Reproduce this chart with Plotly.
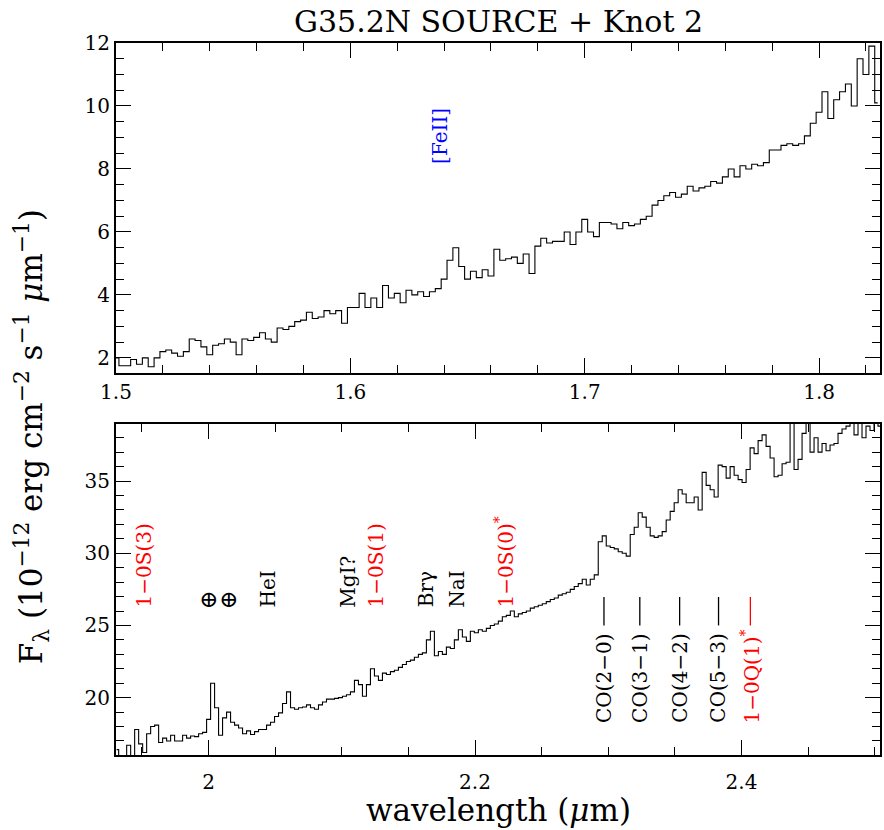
import numpy as np
import plotly.graph_objects as go

# ---------------- data ----------------
H_START, H_STEP = 1.5, 0.0025
h_flux = [2.0, 1.75, 1.75, 1.95, 1.8, 2.0, 1.72, 2.0, 2.2, 2.25, 2.15, 2.05, 2.2, 2.6, 2.55,
          2.35, 2.1, 2.4, 2.45, 2.6, 2.5, 2.1, 2.6, 2.55, 2.65, 2.8, 2.6, 2.5, 2.95, 2.9,
          3.0, 3.15, 3.2, 3.45, 3.25, 3.3, 3.5, 3.4, 3.5, 3.1, 3.6, 3.6, 4.05, 3.6, 3.9,
          3.6, 4.3, 3.9, 4.05, 3.75, 4.15, 4.0, 4.1, 3.95, 4.1, 4.2, 4.5, 5.1, 5.5, 4.9,
          4.5, 4.75, 4.55, 4.8, 4.6, 5.45, 5.1, 5.15, 5.2, 5.0, 5.3, 4.68, 5.55, 5.8, 5.65,
          5.7, 5.7, 6.0, 5.6, 6.0, 6.4, 6.0, 5.85, 6.3, 6.3, 6.25, 6.1, 6.3, 6.2, 6.25,
          6.4, 6.5, 6.85, 7.0, 7.15, 7.25, 7.1, 7.2, 7.45, 7.3, 7.4, 7.45, 7.6, 7.55, 7.75,
          8.0, 7.75, 8.1, 8.0, 8.15, 8.1, 8.2, 8.6, 8.6, 8.75, 8.8, 8.75, 8.8, 9.05, 9.45,
          9.8, 10.45, 9.6, 10.2, 10.45, 10.7, 10.0, 11.5, 11.0, 11.9, 10.1]

K_START, K_STEP = 1.931, 0.003
k_flux = [16.4, 15.8, 15.8, 16.7, 15.8, 17.8, 16.8, 16.2, 17.5, 18.0, 18.1, 16.9, 17.2, 17.0,
          17.4, 17.0, 17.0, 17.4, 17.2, 17.35, 17.3, 17.5, 17.6, 18.5, 21.0, 19.3, 17.4, 18.6,
          19.0, 18.3, 18.1, 17.9, 17.5, 17.7, 17.45, 17.65, 17.8, 17.8, 18.1, 18.3, 18.7,
          18.95, 19.6, 20.4, 19.3, 19.2, 19.3, 19.35, 19.5, 19.3, 19.2, 19.5, 19.7, 19.9,
          19.9, 19.95, 20.0, 20.1, 20.2, 20.4, 21.2, 20.9, 20.1, 20.9, 22.0, 21.5, 21.2,
          21.7, 21.6, 21.8, 21.9, 22.1, 22.3, 22.5, 22.6, 22.8, 23.0, 23.1, 24.0, 24.6,
          22.9, 23.2, 23.0, 23.5, 23.4, 24.0, 24.7, 24.2, 23.9, 24.6, 24.5, 24.7, 24.6,
          24.8, 25.0, 25.1, 25.3, 25.6, 25.7, 26.0, 25.6, 25.8, 25.9, 26.0, 26.2, 26.3,
          26.4, 26.5, 26.65, 26.8, 26.9, 27.1, 27.2, 27.3, 27.5, 27.7, 27.9, 28.2, 27.8,
          28.2, 28.5, 30.8, 31.2, 30.5, 30.4, 30.3, 30.1, 30.0, 29.8, 31.3, 31.8, 32.8,
          32.5, 31.8, 31.2, 31.1, 31.2, 31.5, 32.3, 32.9, 33.5, 34.4, 34.1, 33.5, 33.5,
          33.9, 33.0, 35.6, 34.7, 34.4, 33.9, 36.1, 36.0, 35.2, 36.0, 35.4, 35.1, 34.9,
          35.8, 37.3, 36.9, 37.8, 38.2, 37.4, 36.6, 35.3, 35.4, 36.2, 36.3, 39.5, 35.8,
          36.5, 38.3, 39.2, 37.0, 38.0, 37.0, 37.6, 37.1, 37.5, 37.6, 38.3, 38.6, 38.8,
          39.2, 38.2, 39.0, 38.0, 38.8, 38.5, 39.0, 38.8]

h_wave = np.round(H_START + H_STEP * np.arange(len(h_flux)), 5)
k_wave = np.round(K_START + K_STEP * np.arange(len(k_flux)), 5)

title_text = "G35.2N SOURCE + Knot 2"
x_title = "wavelength (<i>μ</i>m)"
y_title = ("F<sub>λ</sub> (10<sup>−12</sup> erg cm<sup>−2</sup> s<sup>−1</sup> "
           "<i>μ</i>m<sup>−1</sup>)")

# line labels: (text, wavelength, flux anchor, colour)
h_labels = [("[FeII]", 1.6383, 8.1, "#0000ff")]
k_labels = [
    ("1−0S(3)", 1.9514, 26.1, "#ff0000"),
    ("HeI", 2.0449, 26.1, "#000000"),
    ("MgI?", 2.1047, 26.1, "#000000"),
    ("1−0S(1)", 2.1256, 26.1, "#ff0000"),
    ("Brγ", 2.1630, 26.1, "#000000"),
    ("NaI", 2.1862, 26.1, "#000000"),
    ("1−0S(0)<sup>*</sup>", 2.2220, 26.1, "#ff0000"),
]
# band-head labels with a short marker line above them
co_labels = [
    ("CO(2−0)", 2.2968, "#000000"),
    ("CO(3−1)", 2.3237, "#000000"),
    ("CO(4−2)", 2.3536, "#000000"),
    ("CO(5−3)", 2.3828, "#000000"),
    ("1−0Q(1)<sup>*</sup>", 2.4067, "#ff0000"),
]
CO_TEXT_BASE = 18.1
CO_BAR = (25.0, 26.97)
earth_labels = [("⊕", 2.0000, 25.8), ("⊕", 2.0150, 25.8)]

FONT = "DejaVu Serif"

fig = go.Figure()
fig.add_trace(go.Scatter(x=h_wave, y=h_flux, mode="lines", line_shape="hvh",
                         line=dict(color="black", width=1.1), xaxis="x", yaxis="y",
                         showlegend=False, hoverinfo="skip"))
fig.add_trace(go.Scatter(x=k_wave, y=k_flux, mode="lines", line_shape="hvh",
                         line=dict(color="black", width=1.1), xaxis="x2", yaxis="y2",
                         showlegend=False, hoverinfo="skip"))

def ax(rng, dtick, tick0, minor, **kw):
    d = dict(range=rng, dtick=dtick, tick0=tick0, ticks="inside", ticklen=15,
             tickwidth=1.3, tickcolor="black", showline=True, linewidth=2,
             linecolor="black", mirror="allticks", showgrid=False, zeroline=False,
             tickfont=dict(family=FONT, size=20, color="black"),
             minor=dict(dtick=minor, ticks="inside", ticklen=8, tickwidth=1.3,
                        tickcolor="black", showgrid=False))
    d.update(kw)
    return d

W, H = 884, 830
ML, MR, MT, MB = 116, 2, 43, 75
PW, PH = W - ML - MR, H - MT - MB

fig.update_layout(
    width=W, height=H,
    margin=dict(l=ML, r=MR, t=MT, b=MB),
    paper_bgcolor="white", plot_bgcolor="white",
    xaxis=ax([1.5, 1.826], 0.1, 1.5, 0.02, anchor="y", domain=[0, 1]),
    yaxis=ax([1.52, 12], 2, 2, 0.5, anchor="x", domain=[1 - 330 / PH, 1]),
    xaxis2=ax([1.9305, 2.504], 0.2, 2.0, 0.05, anchor="y2", domain=[0, 1],
              ticklabelstandoff=8),
    yaxis2=ax([16.03, 38.95], 5, 20, 1, anchor="x2", domain=[0, 1 - 381 / PH]),
)

ann = []
ann.append(dict(text=title_text, xref="paper", yref="paper", x=0.5, y=1.0,
                xanchor="center", yanchor="bottom", yshift=2, showarrow=False,
                font=dict(family=FONT, size=30, color="black")))
ann.append(dict(text=x_title, xref="paper", yref="paper", x=0.5, y=0,
                xanchor="center", yanchor="top", yshift=-35, showarrow=False,
                font=dict(family=FONT, size=31, color="black")))
ann.append(dict(text=y_title, xref="paper", yref="paper", x=(31 - 116) / PW,
                y=1 - (437 - 43) / PH, xanchor="center", yanchor="middle",
                textangle=-90, showarrow=False,
                font=dict(family=FONT, size=31, color="black")))
for t, w, f, c in h_labels:
    ann.append(dict(text=t, x=w, y=f, xref="x", yref="y", xanchor="center",
                    yanchor="bottom", textangle=-90, showarrow=False,
                    font=dict(family=FONT, size=20, color=c)))
for t, w, f, c in k_labels:
    ann.append(dict(text=t, x=w, y=f, xref="x2", yref="y2", xanchor="center",
                    yanchor="bottom", textangle=-90, showarrow=False,
                    font=dict(family=FONT, size=20, color=c)))
for t, w, c in co_labels:
    ann.append(dict(text=t, x=w, y=CO_TEXT_BASE, xref="x2", yref="y2", xanchor="center",
                    yanchor="bottom", textangle=-90, showarrow=False,
                    font=dict(family=FONT, size=20, color=c)))
for t, w, f in earth_labels:
    ann.append(dict(text=t, x=w, y=f, xref="x2", yref="y2", xanchor="center",
                    yanchor="bottom", showarrow=False,
                    font=dict(family=FONT, size=23, color="black")))
fig.update_layout(annotations=ann)

shapes = []
for t, w, c in co_labels:
    shapes.append(dict(type="line", xref="x2", yref="y2", x0=w, x1=w,
                       y0=CO_BAR[0], y1=CO_BAR[1], line=dict(color=c, width=1.3)))
fig.update_layout(shapes=shapes)

fig.write_html("out.html", config={"displayModeBar": False},
               post_script="document.body.style.margin='0px';")
